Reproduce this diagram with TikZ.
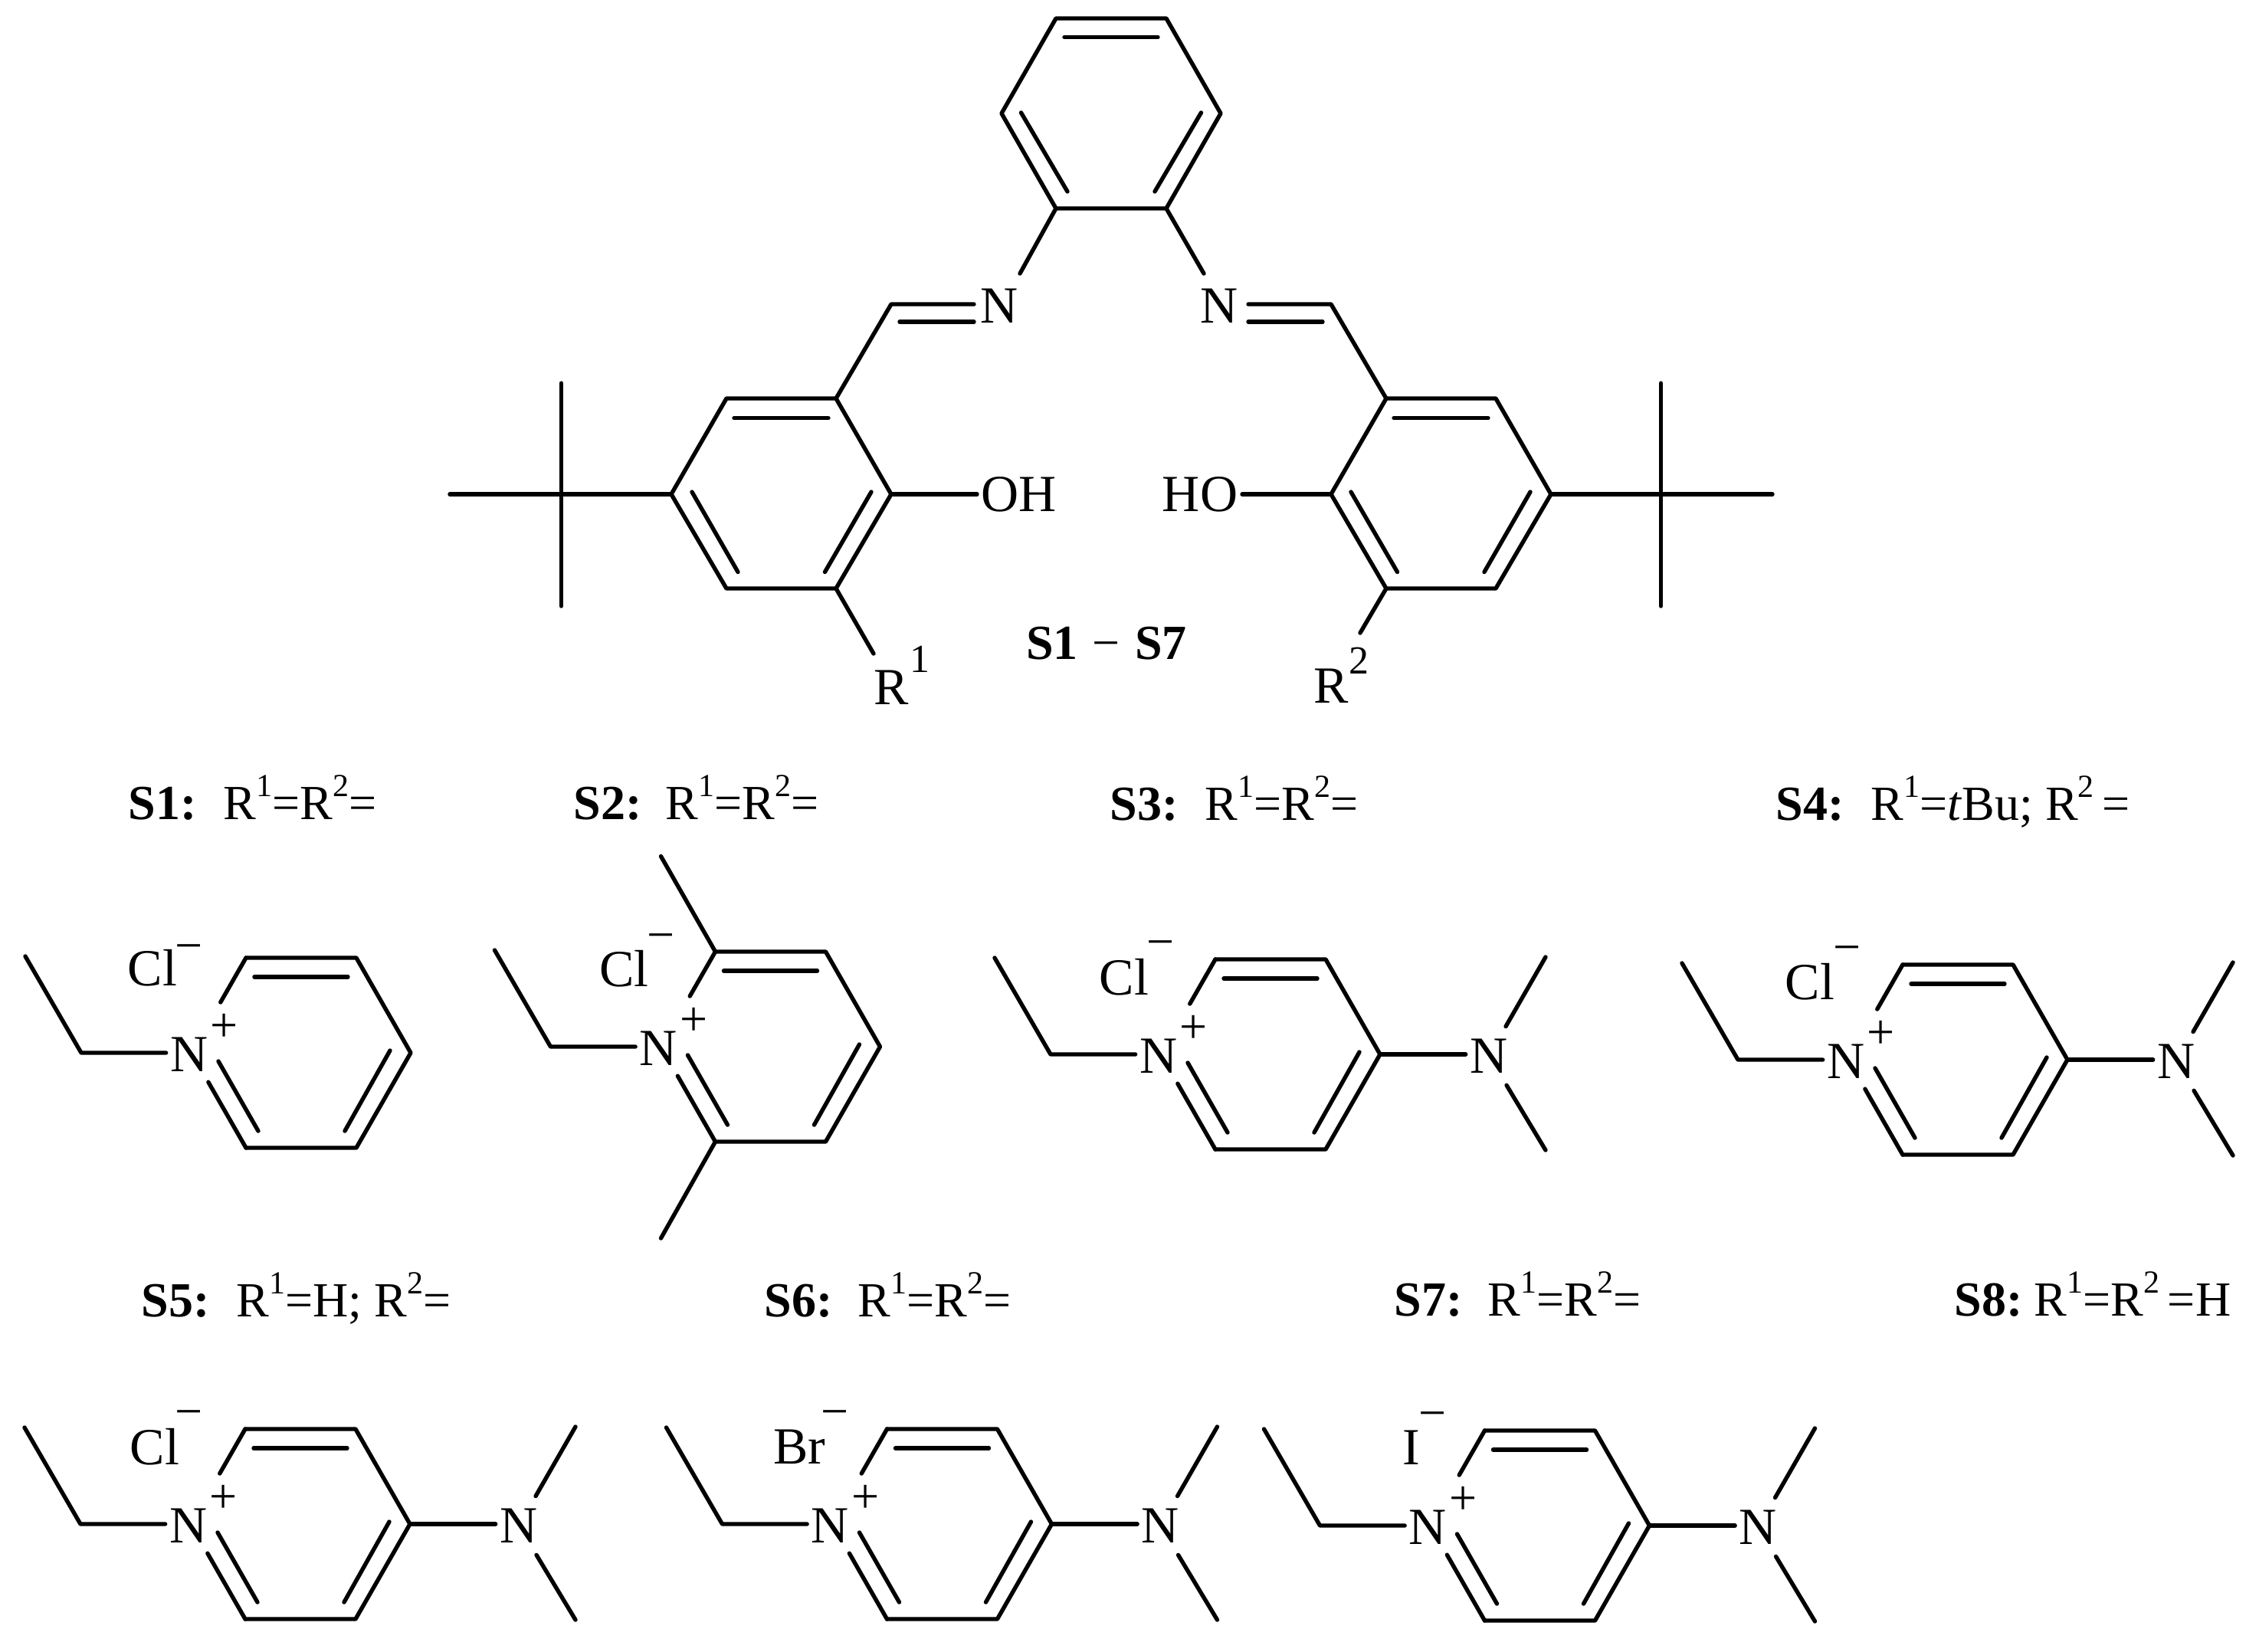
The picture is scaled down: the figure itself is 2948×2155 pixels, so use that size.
\documentclass[tikz,border=0pt]{standalone}
\usepackage{fontspec}
\setmainfont{Liberation Serif}
\usetikzlibrary{calc}

\newcommand{\upnum}[1]{\raisebox{7.5pt}{\fontsize{10.5}{12}\selectfont #1}}

\tikzset{
	bond/.style={line width=1.35pt, line cap=round, line join=round},
	atom/.style={font=\fontsize{17}{20}\selectfont, inner sep=1.25pt},
	charge/.style={font=\fontsize{16}{19}\selectfont, inner sep=0pt},
	supnum/.style={font=\fontsize{13}{15}\selectfont, inner sep=0pt},
	caption/.style={font=\fontsize{16}{19}\selectfont, inner sep=0pt, anchor=base west}
}

\begin{document}
\begin{tikzpicture}[x=0.25pt, y=-0.25pt]
	\useasboundingbox (0,0) rectangle (2948,2155);

	% central ring
	\coordinate (t1) at (1378,24);
	\coordinate (t2) at (1522,24);
	\coordinate (t3) at (1593,148);
	\coordinate (t4) at (1522,272);
	\coordinate (t5) at (1378,272);
	\coordinate (t6) at (1307,148);
	\coordinate (ta) at (1389,48.5);
	\coordinate (tb) at (1511,48.5);
	\coordinate (tc) at (1332.5,147);
	\coordinate (td) at (1393,250);
	\coordinate (te) at (1567.5,147);
	\coordinate (tf) at (1507,250);
	\draw[bond] (t1) -- (t2) -- (t3) -- (t4) -- (t5) -- (t6) -- cycle;
	\draw[bond] (ta) -- (tb);
	\draw[bond] (tc) -- (td);
	\draw[bond] (te) -- (tf);

	% the two phenol arms
	\foreach \sd/\s in {l/1, r/-1}{
		\begin{scope}[shift={(1450,0)}, xscale=\s]
			\coordinate (p1\sd) at (-574,645);
			\coordinate (p2\sd) at (-502,520);
			\coordinate (p3\sd) at (-359,520);
			\coordinate (p4\sd) at (-287,645);
			\coordinate (p5\sd) at (-359,768);
			\coordinate (p6\sd) at (-502,768);
			\coordinate (pa\sd) at (-492,545.5);
			\coordinate (pb\sd) at (-369,545.5);
			\coordinate (pc\sd) at (-547,642);
			\coordinate (pd\sd) at (-487,746.5);
			\coordinate (pe\sd) at (-313,642);
			\coordinate (pf\sd) at (-373.5,746.5);
			\coordinate (bu\sd) at (-717.5,645);
			\coordinate (bw\sd) at (-863,645);
			\coordinate (bn\sd) at (-717.5,500);
			\coordinate (bs\sd) at (-717.5,791);
			\coordinate (im\sd) at (-287,397);
			\coordinate (da\sd) at (-179,397);
			\coordinate (db\sd) at (-276,420);
			\coordinate (dc\sd) at (-179,420);
			\draw[bond] (p1\sd) -- (p2\sd) -- (p3\sd) -- (p4\sd) -- (p5\sd) -- (p6\sd) -- cycle;
			\draw[bond] (pa\sd) -- (pb\sd);
			\draw[bond] (pc\sd) -- (pd\sd);
			\draw[bond] (pe\sd) -- (pf\sd);
			\draw[bond] (p1\sd) -- (bw\sd);
			\draw[bond] (bn\sd) -- (bs\sd);
			\draw[bond] (p3\sd) -- (im\sd) -- (da\sd);
			\draw[bond] (db\sd) -- (dc\sd);
		\end{scope}
	}

	\coordinate (nlend) at (1331,357);
	\coordinate (nrend) at (1571,357);
	\coordinate (rone) at (1140,853);
	\coordinate (rtwo) at (1775,826);
	\node[atom] (nl) at (1304,399) {N};
	\node[atom] (nr) at (1591,399) {N};
	\node[atom, anchor=west] (oh) at (1275,645) {OH};
	\node[atom, anchor=east] (ho) at (1621,645) {HO};
	\node[atom] (rl) at (1163,897) {R};
	\node[supnum] (rlnum) at (1200,860) {1};
	\node[atom] (rr) at (1737,895) {R};
	\node[supnum] (rrnum) at (1773,862) {2};
	\draw[bond] (t5) -- (nlend);
	\draw[bond] (t4) -- (nrend);
	\draw[bond] (p4l) -- (oh);
	\draw[bond] (p4r) -- (ho);
	\draw[bond] (p5l) -- (rone);
	\draw[bond] (p5r) -- (rtwo);
	\node[caption, anchor=base] (family) at (1444,860) {\textbf{S1}\hspace{0.8pt} − \hspace{0.8pt}\textbf{S7}};

	% captions
	\node[caption] (sone) at (167,1069) {\makebox[31pt][l]{\textbf{S1:}}R\upnum{1}=R\upnum{2}=};
	\node[caption] (stwo) at (748,1069) {\makebox[30pt][l]{\textbf{S2:}}R\upnum{1}=R\upnum{2}=};
	\node[caption] (sthree) at (1448,1070) {\makebox[31pt][l]{\textbf{S3:}}R\upnum{1}=R\upnum{2}=};
	\node[caption] (sfour) at (2317,1070) {\makebox[31pt][l]{\textbf{S4:}}R\upnum{1}=\textit{t}Bu; R\upnum{2}\,=};
	\node[caption] (sfive) at (184,1718) {\makebox[31pt][l]{\textbf{S5:}}R\upnum{1}=H; R\upnum{2}=};
	\node[caption] (ssix) at (997,1718) {\makebox[30.5pt][l]{\textbf{S6:}}R\upnum{1}=R\upnum{2}=};
	\node[caption] (sseven) at (1819,1717) {\makebox[30.5pt][l]{\textbf{S7:}}R\upnum{1}=R\upnum{2}=};
	\node[caption] (seight) at (2550,1717) {\makebox[26pt][l]{\textbf{S8:}}R\upnum{1}=R\upnum{2}\,=H};

	% pyridinium salts
	\foreach \id/\cx/\cy/\anion/\ax/\ay/\mx/\my in {
		a/393/1374/Cl/-194/-111/-146/-130,
		b/1005.5/1366/Cl/-191/-102/-143/-136,
		c/1658/1376/Cl/-191/-101/-143/-137,
		d/2555/1383/Cl/-193/-102/-144/-137,
		e/392/1989/Cl/-190/-101/-145/-137,
		f/1229.5/1989/Br/-186/-101/-140/-137,
		g/2009.5/1991/I/-167.5/-102/-140/-137}{
		\begin{scope}[shift={(\cx,\cy)}]
			\coordinate (r1\id) at (-143,0);
			\coordinate (r2\id) at (-72,-124);
			\coordinate (r3\id) at (72,-124);
			\coordinate (r4\id) at (143,0);
			\coordinate (r5\id) at (72,124);
			\coordinate (r6\id) at (-72,124);
			\coordinate (ia\id) at (-61,-99);
			\coordinate (ib\id) at (61,-99);
			\coordinate (ic\id) at (116,-3);
			\coordinate (id\id) at (57,102);
			\coordinate (ie\id) at (-108,11);
			\coordinate (if\id) at (-56,102);
			\coordinate (et\id) at (-287,0);
			\coordinate (me\id) at (-360,-126);
			\node[atom] (n\id) at (-146,2) {N};
			\node[atom] (x\id) at (\ax,\ay) {\anion};
			\node[charge] (mi\id) at (\mx,\my) {−};
			\node[charge] (pl\id) at (-100,-33) {+};
			\draw[bond] (me\id) -- (et\id) -- (et\id -| n\id.west);
			\draw[bond] (r2\id) -- (r3\id) -- (r4\id) -- (r5\id) -- (r6\id);
			\draw[bond, shorten >=19pt] (r2\id) -- (r1\id);
			\draw[bond, shorten >=11pt] (r6\id) -- (r1\id);
			\draw[bond] (ia\id) -- (ib\id);
			\draw[bond] (ic\id) -- (id\id);
			\draw[bond] (ie\id) -- (if\id);
		\end{scope}
	}

	% methyl groups on the second salt
	\coordinate (mtop) at ($(r2b)+(-71,-124.5)$);
	\coordinate (mbot) at ($(r6b)+(-71,126)$);
	\draw[bond] (r2b) -- (mtop);
	\draw[bond] (r6b) -- (mbot);

	% dimethylamino groups
	\foreach \id in {c,d,e,f,g}{
		\begin{scope}[shift={(r4\id)}]
			\node[atom] (nm\id) at (142,2) {N};
			\coordinate (mu\id) at (216,-127);
			\coordinate (md\id) at (216,125);
			\draw[bond] (r4\id) -- (r4\id -| nm\id.west);
			\draw[bond, shorten <=3pt] (nm\id) -- (mu\id);
			\draw[bond, shorten <=3pt] (nm\id) -- (md\id);
		\end{scope}
	}
\end{tikzpicture}
\end{document}
